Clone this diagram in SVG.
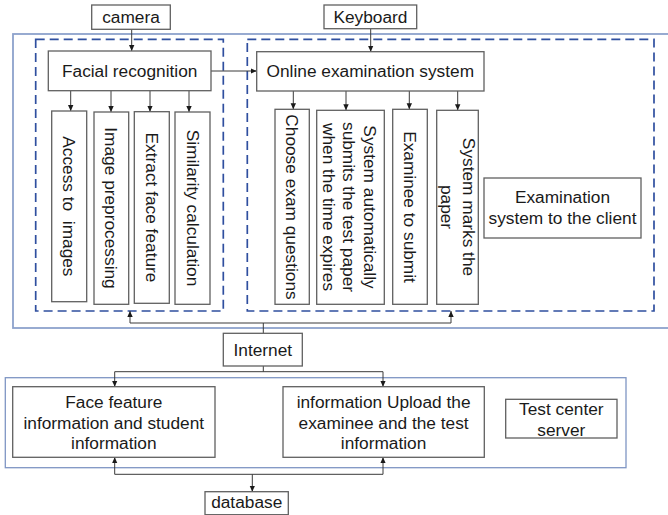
<svg xmlns="http://www.w3.org/2000/svg" width="668" height="515" viewBox="0 0 668 515">
  <style>
    .box { fill: #ffffff; stroke: #606060; stroke-width: 1.3; }
    .zone { fill: none; stroke: #8DA2CC; stroke-width: 1.8; }
    .zone2 { fill: none; stroke: #7F96C4; stroke-width: 1.3; }
    .dash { fill: none; stroke: #2F4F9F; stroke-width: 1.7; stroke-dasharray: 9 5; }
    .lbl { font-family: "Liberation Sans", Arial, sans-serif; font-size: 17.3px; fill: #1a1a1a; text-anchor: middle; }
    .wire { fill: none; stroke: #3a3a3a; stroke-width: 1; marker-end: url(#arrow); }
    .line { fill: none; stroke: #3a3a3a; stroke-width: 1; }
  </style>
  <defs>
    <marker id="arrow" markerUnits="userSpaceOnUse" markerWidth="6" markerHeight="6" viewBox="0 0 10 10" refX="10" refY="5" orient="auto">
      <path d="M0,0.5 L10,5 L0,9.5 z" fill="#1a1a1a"/>
    </marker>
  </defs>

  <rect width="668" height="515" fill="#ffffff"/>

  <!-- client side area and its two dashed sub-areas -->
  <rect class="zone" x="13" y="34" width="660" height="294"/>
  <rect class="dash" x="35.7" y="39.3" width="187.6" height="271.7"/>
  <rect class="dash" x="247.3" y="39.3" width="406.7" height="271.7"/>

  <!-- server side area -->
  <rect class="zone2" x="5.3" y="377.7" width="620.7" height="90"/>

  <!-- connectors -->
  <g id="connectors">
    <path class="wire" d="M131.7,29.3 V51"/>
    <path class="wire" d="M370.7,28.7 V51.7"/>
    <path class="wire" d="M211,71 H256.7"/>
    <path class="wire" d="M70.7,90.7 V111"/>
    <path class="wire" d="M111,90.7 V112"/>
    <path class="wire" d="M150,90.7 V111.7"/>
    <path class="wire" d="M189,90.7 V112"/>
    <path class="wire" d="M293.3,91 V109.3"/>
    <path class="wire" d="M346,91 V110.3"/>
    <path class="wire" d="M409.3,91 V109.3"/>
    <path class="wire" d="M457.7,91 V110.3"/>
    <path class="line" d="M263.3,333.3 V323 M130,323 H451"/>
    <path class="wire" d="M130,323 V311"/>
    <path class="wire" d="M451,323 V311"/>
    <path class="line" d="M263.3,366 V371.7 M114.7,371.7 H383"/>
    <path class="wire" d="M114.7,371.7 V386.7"/>
    <path class="wire" d="M383,371.7 V386.7"/>
    <path class="line" d="M114.7,474.3 H383"/>
    <path class="wire" d="M114.7,474.3 V457.3"/>
    <path class="wire" d="M383,474.3 V457.3"/>
    <path class="wire" d="M252.3,474.3 V491.7"/>
  </g>

  <!-- inputs -->
  <g id="camera">
    <rect class="box" x="91.7" y="5" width="78.6" height="24.3"/>
    <text class="lbl" x="131" y="22.7">camera</text>
  </g>
  <g id="keyboard">
    <rect class="box" x="324" y="5" width="92.7" height="23.7"/>
    <text class="lbl" x="370.4" y="22.7">Keyboard</text>
  </g>

  <!-- face recognition module -->
  <g id="facial-recognition">
    <rect class="box" x="48.3" y="51" width="162.7" height="39.7"/>
    <text class="lbl" x="129.7" y="77">Facial recognition</text>
  </g>
  <g id="access-images">
    <rect class="box" x="51.7" y="111" width="35" height="190.7"/>
    <g transform="translate(69.2,206.4) rotate(90)"><text class="lbl" x="0" y="6" xml:space="preserve">Access to  images</text></g>
  </g>
  <g id="image-preprocessing">
    <rect class="box" x="94" y="112" width="34.7" height="192.3"/>
    <g transform="translate(111.3,208) rotate(90)"><text class="lbl" x="0" y="6">Image preprocessing</text></g>
  </g>
  <g id="extract-feature">
    <rect class="box" x="134.3" y="111.7" width="35" height="191.6"/>
    <g transform="translate(151.8,207.5) rotate(90)"><text class="lbl" x="0" y="6">Extract face feature</text></g>
  </g>
  <g id="similarity">
    <rect class="box" x="175" y="112" width="35" height="192.3"/>
    <g transform="translate(192.5,208) rotate(90)"><text class="lbl" x="0" y="6">Similarity calculation</text></g>
  </g>

  <!-- online examination module -->
  <g id="online-exam">
    <rect class="box" x="256.7" y="51.7" width="227.3" height="39.3"/>
    <text class="lbl" x="370.3" y="77">Online examination system</text>
  </g>
  <g id="choose-questions">
    <rect class="box" x="275" y="109.3" width="34.3" height="195"/>
    <g transform="translate(292.2,207) rotate(90)"><text class="lbl" x="0" y="6">Choose exam questions</text></g>
  </g>
  <g id="auto-submit">
    <rect class="box" x="316.7" y="110.3" width="67.6" height="194"/>
    <g transform="translate(349.5,207) rotate(90)">
      <text class="lbl" x="0" y="-14">System automatically</text>
      <text class="lbl" x="0" y="6.5">submits the test paper</text>
      <text class="lbl" x="0" y="26.5">when the time expires</text>
    </g>
  </g>
  <g id="examinee-submit">
    <rect class="box" x="392.7" y="109.3" width="34.6" height="195"/>
    <g transform="translate(410,207) rotate(90)"><text class="lbl" x="0" y="6">Examinee to submit</text></g>
  </g>
  <g id="marks-paper">
    <rect class="box" x="436.7" y="110.3" width="41.6" height="194"/>
    <g transform="translate(457.5,207) rotate(90)">
      <text class="lbl" x="0" y="-5.5">System marks the</text>
      <text class="lbl" x="0" y="17">paper</text>
    </g>
  </g>
  <g id="exam-client">
    <rect class="box" x="484" y="178" width="157" height="60"/>
    <text class="lbl" x="562.5" y="203.3">Examination</text>
    <text class="lbl" x="562.5" y="224">system to the client</text>
  </g>

  <!-- network -->
  <g id="internet">
    <rect class="box" x="223.3" y="333.3" width="79" height="32.7"/>
    <text class="lbl" x="262.8" y="356">Internet</text>
  </g>

  <!-- server side -->
  <g id="face-student-info">
    <rect class="box" x="12.7" y="386.7" width="202.3" height="70.6"/>
    <text class="lbl" x="113.8" y="408.3">Face feature</text>
    <text class="lbl" x="113.8" y="428.6">information and student</text>
    <text class="lbl" x="113.8" y="449">information</text>
  </g>
  <g id="upload-info">
    <rect class="box" x="283" y="386.7" width="201.3" height="70.6"/>
    <text class="lbl" x="383.6" y="408.3">information Upload the</text>
    <text class="lbl" x="383.6" y="428.6">examinee and the test</text>
    <text class="lbl" x="383.6" y="449">information</text>
  </g>
  <g id="test-center">
    <rect class="box" x="505.7" y="399.3" width="111.3" height="38.7"/>
    <text class="lbl" x="561.3" y="415">Test center</text>
    <text class="lbl" x="561.3" y="435.5">server</text>
  </g>
  <g id="database">
    <rect class="box" x="205" y="491.7" width="83.3" height="23"/>
    <text class="lbl" x="246.7" y="508.3">database</text>
  </g>
</svg>
